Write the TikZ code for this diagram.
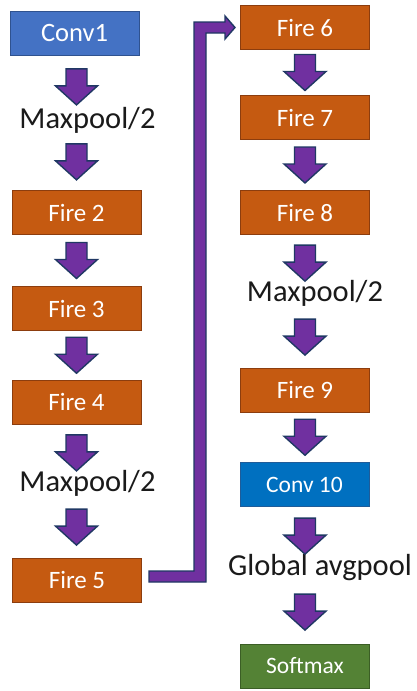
\documentclass[tikz,border=0pt]{standalone}
\usepackage{fontspec}
\setmainfont{Carlito}
\usetikzlibrary{calc}
\definecolor{fireor}{HTML}{C55A11}
\definecolor{fireed}{HTML}{8C3D0E}
\definecolor{convbl}{HTML}{4472C4}
\definecolor{convbd}{HTML}{2F528F}
\definecolor{convtb}{HTML}{0070C0}
\definecolor{convtd}{HTML}{1F5C99}
\definecolor{smgr}{HTML}{548235}
\definecolor{smgd}{HTML}{3B5E25}
\definecolor{arrpu}{HTML}{7030A0}
\definecolor{arrbd}{HTML}{203864}
\definecolor{lbl}{HTML}{1A1A1A}
\tikzset{
  box/.style={rectangle, minimum width=129pt, minimum height=44pt, inner sep=0pt, line width=1pt, text=white},
  firebox/.style={box, fill=fireor, draw=fireed, font=\fontsize{25}{30}\selectfont},
  conva/.style={box, fill=convbl, draw=convbd, font=\fontsize{26.5}{31}\selectfont},
  convb/.style={box, fill=convtb, draw=convtd, font=\fontsize{23.5}{28}\selectfont},
  smbox/.style={box, fill=smgr, draw=smgd, font=\fontsize{23.5}{28}\selectfont},
  lab/.style={inner xsep=0pt, inner ysep=2.5pt, text height=0.75em, text depth=0.25em, text=lbl, font=\fontsize{30.5}{36}\selectfont},
  barrow/.style={fill=arrpu, draw=arrbd, line width=1.4pt, line join=miter},
}
\newcommand\blockarr[3]{%
  \path ($(#1.south)!0.5!(#2.north)$) coordinate (m-#1);
  \draw[barrow] (#3 |- m-#1) ++(-10.5,-18) -- ++(21,0) -- ++(0,17) -- ++(10.5,0) -- ++(-21,19) -- ++(-21,-19) -- ++(10.5,0) -- cycle;
}
\begin{document}
\begin{tikzpicture}[x=1pt,y=-1pt]
\useasboundingbox[fill=white] (0,0) rectangle (417,691);
% left column
\node[conva]   (c1)  at (74.5,33)   {Conv1};
\node[lab]     (mp1) at (87.5,126)  {Maxpool/2};
\node[firebox] (f2)  at (76.5,212.5){Fire 2};
\node[firebox] (f3)  at (76.5,308.5){Fire 3};
\node[firebox] (f4)  at (76.5,402)  {Fire 4};
\node[lab]     (mp2) at (87.5,489)  {Maxpool/2};
\node[firebox] (f5)  at (77,580)    {Fire 5};
% right column
\node[firebox] (f6)  at (305,27.5)  {Fire 6};
\node[firebox] (f7)  at (305,117.5) {Fire 7};
\node[firebox] (f8)  at (305,212.5) {Fire 8};
\node[lab]     (mp3) at (315,299)   {Maxpool/2};
\node[firebox] (f9)  at (305,390)   {Fire 9};
\node[convb]   (c10) at (304.5,484.5){Conv 10};
\node[lab]     (gap) at (320,573)   {Global avgpool};
\node[smbox]   (sm)  at (305,666)   {Softmax};
% block arrows
\blockarr{c1}{mp1}{f2}
\blockarr{mp1}{f2}{f2}
\blockarr{f2}{f3}{f3}
\blockarr{f3}{f4}{f4}
\blockarr{f4}{mp2}{f4}
\blockarr{mp2}{f5}{f4}
\blockarr{f6}{f7}{f7}
\blockarr{f7}{f8}{f8}
\blockarr{f8}{mp3}{f8}
\blockarr{mp3}{f9}{f9}
\blockarr{f9}{c10}{f9}
\blockarr{c10}{gap}{f9}
\blockarr{gap}{sm}{f9}
% bent connector Fire 5 -> Fire 6
\coordinate (s) at ($(f5.east)+(7,-3.5)$);
\coordinate (t) at ($(f6.west)+(-5,0)$);
\draw[barrow] let \p1=(s), \p2=(t) in
  (\x1,\y1+5.5pt) -- (\x1+45pt,\y1+5.5pt) -- (\x1+45pt,\y2+5.5pt) -- (\x2-10pt,\y2+5.5pt)
  -- (\x2-10pt,\y2+11.5pt) -- (\x2,\y2) -- (\x2-10pt,\y2-11.5pt) -- (\x2-10pt,\y2-5.5pt)
  -- (\x1+57pt,\y2-5.5pt) -- (\x1+57pt,\y1-5.5pt) -- (\x1,\y1-5.5pt) -- cycle;
\end{tikzpicture}
\end{document}
